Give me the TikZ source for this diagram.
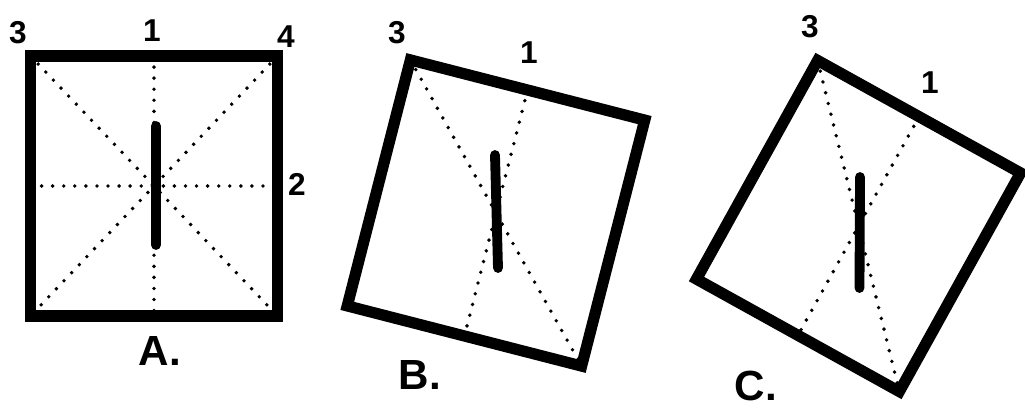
\documentclass[tikz,border=0pt]{standalone}
\usepackage{fontspec}
\setmainfont{Liberation Sans}

\begin{document}
\begin{tikzpicture}[x=0.02cm, y=-0.02cm,
    framebox/.style={draw, line width=6.4pt, inner sep=0pt, outer sep=0pt},
    dotline/.style={line width=2.2pt, line cap=round, dash pattern=on 0pt off 6.3pt},
    rod/.style={line width=5.6pt, line cap=round},
    digit/.style={font=\fontsize{18}{18}\selectfont\bfseries, inner sep=0pt},
    capt/.style={font=\fontsize{24}{24}\selectfont\bfseries, inner sep=0pt}
  ]
    \useasboundingbox (0,0) rectangle (1025,412);

    % A: upright frame
    \node[framebox, minimum width=4.94cm, minimum height=5.2cm] (frameA) at (154,186) {};
    \draw[dotline] (frameA.north)      -- (frameA.south);
    \draw[dotline] (frameA.west)       -- (frameA.east);
    \draw[dotline] (frameA.north west) -- (frameA.south east);
    \draw[dotline] (frameA.north east) -- (frameA.south west);
    \draw[rod] (156,126) -- (156,245);

    \node[digit] (a3) at (18,33)   {3};
    \node[digit] (a1) at (152,31)  {1};
    \node[digit] (a4) at (286,37)  {4};
    \node[digit] (a2) at (297,184) {2};
    \node[capt]  (capA) at (160,351) {A.};

    % B: frame tilted
    \node[framebox, rotate=-14.4, minimum width=4.84cm, minimum height=5.08cm] (frameB) at (496,213) {};
    \draw[dotline] (frameB.north)      -- (frameB.south);
    \draw[dotline] (frameB.north west) -- (frameB.south east);
    \draw[rod] (495,155) -- (498,268);

    \node[digit] (b3) at (397,33) {3};
    \node[digit] (b1) at (529,53) {1};
    \node[capt]  (capB) at (420,375) {B.};

    % C: frame tilted further
    \node[framebox, rotate=-29, minimum width=4.64cm, minimum height=5.0cm] (frameC) at (858.5,226) {};
    \draw[dotline] (frameC.north)      -- (frameC.south);
    \draw[dotline] (frameC.north west) -- (frameC.south east);
    \draw[rod] (860,177) -- (859.5,288);

    \node[digit] (c3) at (810,27) {3};
    \node[digit] (c1) at (930,83) {1};
    \node[capt]  (capC) at (756,386) {C.};
\end{tikzpicture}
\end{document}
